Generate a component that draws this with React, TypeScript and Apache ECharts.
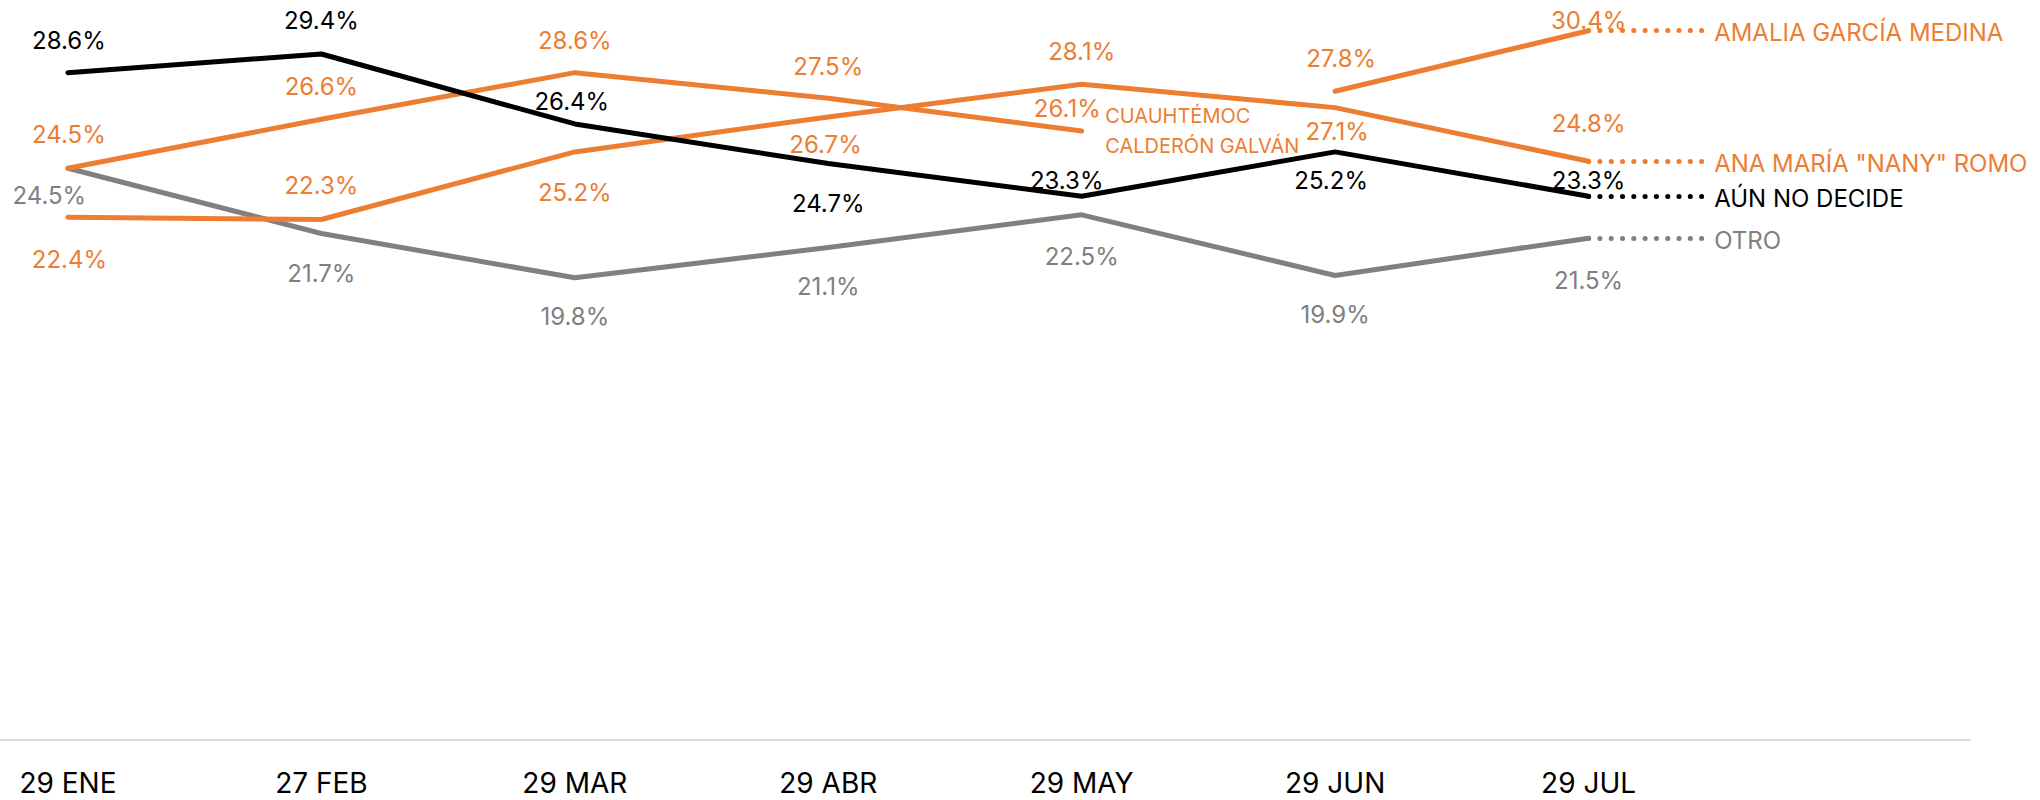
import React, { useEffect, useRef } from 'react';
import * as echarts from 'echarts';

// ---- data ----
const categories = ['29 ENE', '27 FEB', '29 MAR', '29 ABR', '29 MAY', '29 JUN', '29 JUL'];
const noDecide = [28.6, 29.4, 26.4, 24.7, 23.3, 25.2, 23.3];
const otro = [24.5, 21.7, 19.8, 21.1, 22.5, 19.9, 21.5];
const calderon = [24.5, 26.6, 28.6, 27.5, 26.1, null, null];
const romo = [22.4, 22.3, 25.2, 26.7, 28.1, 27.1, 24.8];
const garcia = [null, null, null, null, null, 27.8, 30.4];

const nameNoDecide = 'AÚN NO DECIDE';
const nameOtro = 'OTRO';
const nameCalderon = 'CUAUHTÉMOC\nCALDERÓN GALVÁN';
const nameRomo = 'ANA MARÍA "NANY" ROMO';
const nameGarcia = 'AMALIA GARCÍA MEDINA';

// ---- layout / style ----
const ORANGE = '#ED7D31';
const GRAY = '#808080';
const BLACK = '#000000';
const FONT = 'Inter';
const CONNECTOR_END = 6.452;

const offNoDecide = [[1, -32], [0, -33.5], [-3, -22], [0, 40], [-15, -16], [-4, 29], [0, -16]];
const offOtro = [[-18.6, 27], [0, 40], [0, 39], [0, 39.5], [0, 42], [0, 39], [0, 42]];
const offCalderon = [[1, -34], [0, -33], [0, -32], [0, -31.6], [-14.4, -22], [0, 0], [0, 0]];
const offRomo = [[1.5, 42], [0, -34], [0, 41], [-2.7, 27.3], [0, -32.6], [2, 24], [0, -37.4]];
const offGarcia = [[0, 0], [0, 0], [0, 0], [0, 0], [0, 0], [6, -33], [0, -10]];

function buildSeries(vals: (number | null)[], color: string, offsets: number[][], z: number, endName?: string) {
  const data = vals
    .map((v, i) => (v == null ? null : { value: [i, v], label: { offset: offsets[i] } }))
    .filter((d) => d !== null);
  const lastIdx = vals.length - 1;
  const last = vals[lastIdx];
  const s: any = {
    type: 'line',
    data,
    z,
    symbol: 'circle',
    symbolSize: 1,
    itemStyle: { color },
    lineStyle: { color, width: 5, cap: 'round', join: 'round' },
    label: {
      show: true,
      position: 'inside',
      align: 'center',
      verticalAlign: 'middle',
      color,
      fontFamily: FONT,
      fontSize: 24,
      formatter: (p: any) => p.value[1].toFixed(1) + '%',
    },
  };
  if (endName && last != null) {
    s.markLine = {
      silent: true,
      symbol: ['none', 'none'],
      lineStyle: { color, width: 5, type: [0.1, 11.2], cap: 'round' },
      label: {
        show: true,
        position: 'end',
        formatter: endName,
        color,
        fontFamily: FONT,
        fontSize: 24,
        distance: 11,
        offset: [0, 2],
      },
      data: [[{ coord: [lastIdx, last] }, { coord: [CONNECTOR_END, last] }]],
    };
  }
  return s;
}

export default function App() {
  const ref = useRef<HTMLDivElement>(null);
  useEffect(() => {
    document.body.style.margin = '0';
    if (!ref.current) return;
    const chart = echarts.init(ref.current, undefined, { renderer: 'svg' });
    const calderonSeries = buildSeries(calderon, ORANGE, offCalderon, 3);
    const calIdx = 4;
    calderonSeries.markPoint = {
      silent: true,
      symbol: 'circle',
      symbolSize: 1,
      itemStyle: { color: 'rgba(0,0,0,0)' },
      label: {
        show: true,
        position: 'right',
        distance: 23,
        formatter: nameCalderon,
        color: ORANGE,
        fontFamily: FONT,
        fontSize: 20,
        lineHeight: 30,
        align: 'left',
      },
      data: [{ coord: [calIdx, calderon[calIdx]] }],
    };
    chart.setOption({
      animation: false,
      grid: { left: 0, right: 70, top: 30.7, bottom: 60.7, outerBoundsMode: 'none' },
      xAxis: {
        type: 'value',
        min: -0.268,
        max: 7.505,
        axisLine: { show: true, lineStyle: { color: '#D9D9D9', width: 2 } },
        axisTick: { show: false },
        splitLine: { show: false },
        axisLabel: {
          customValues: categories.map((_, i) => i),
          formatter: (v: number) => (Number.isInteger(v) && categories[v] ? categories[v] : ''),
          fontFamily: FONT,
          fontSize: 28,
          color: '#000',
          margin: 30,
        },
      },
      yAxis: { type: 'value', min: 0, max: 30.4, show: false },
      series: [
        buildSeries(otro, GRAY, offOtro, 2, nameOtro),
        calderonSeries,
        buildSeries(romo, ORANGE, offRomo, 3, nameRomo),
        buildSeries(garcia, ORANGE, offGarcia, 3, nameGarcia),
        buildSeries(noDecide, BLACK, offNoDecide, 4, nameNoDecide),
      ],
    });
    return () => chart.dispose();
  }, []);
  return <div ref={ref} style={{ width: 2040, height: 800 }} />;
}
